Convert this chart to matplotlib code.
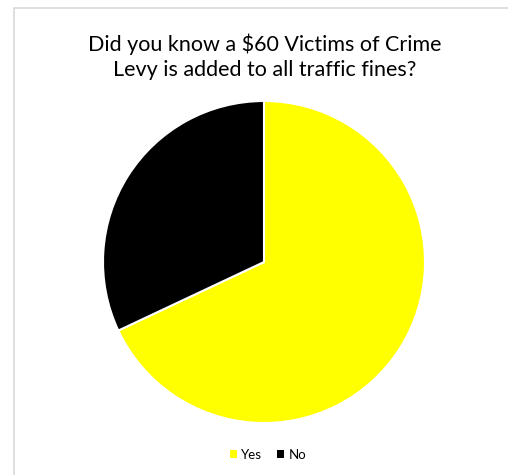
import matplotlib
matplotlib.use("Agg")
import matplotlib.pyplot as plt
from matplotlib.patches import Rectangle, Patch

labels = ["Yes", "No"]
values = [68, 32]
colors = ["#FFFF00", "#000000"]
title = "Did you know a $60 Victims of Crime\nLevy is added to all traffic fines?"

W, H = 508, 475
fig = plt.figure(figsize=(W/100, H/100), dpi=100)
fig.patch.set_facecolor("white")

# frame border (left and top visible)
fig.add_artist(Rectangle((13.5/W, -0.1), 1.2, (H-7.5)/H + 0.1, transform=fig.transFigure,
                         fill=False, edgecolor="#D9D9D9", linewidth=1.2))

cx, cy, r = 264, H-262, 161
ax = fig.add_axes([(cx-r)/W, (cy-r)/H, 2*r/W, 2*r/H])
ax.pie(values, colors=colors, startangle=90, counterclock=False,
       wedgeprops=dict(edgecolor="white", linewidth=1.5))
ax.set_aspect("auto")
ax.set_xlim(-1, 1); ax.set_ylim(-1, 1)
ax.axis("off")

fig.text(265/W, 1-57/H, title, ha="center", va="center", fontsize=15.5,
         family=["Lato", "DejaVu Sans"], color="#000000", linespacing=1.3)

handles = [Patch(facecolor=c, edgecolor="none") for c in colors]
fig.legend(handles, labels, loc="center", bbox_to_anchor=(268/W, 1-455/H), ncol=2,
           frameon=False, handlelength=0.55, handleheight=0.55,
           handletextpad=0.35, columnspacing=1.1, prop={"family": "Lato", "size": 9.5})

fig.savefig("out.png", dpi=100, facecolor="white")
